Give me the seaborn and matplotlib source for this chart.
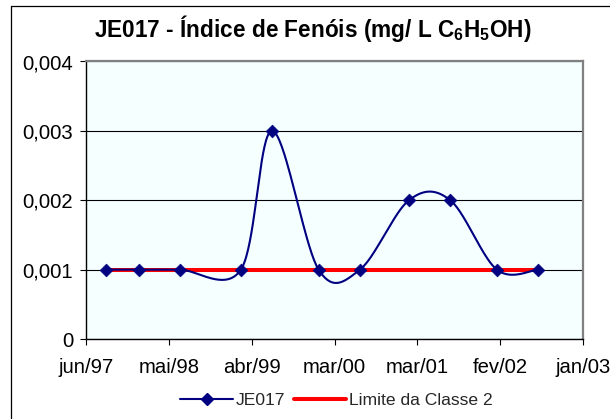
import numpy as np
import pandas as pd
import matplotlib
matplotlib.use("Agg")
import matplotlib.pyplot as plt
import matplotlib.dates as mdates
from matplotlib.lines import Line2D
import seaborn as sns

# Sampling dates and phenol index readings at station JE017
datas = ["1997-09-01", "1998-01-13", "1998-07-02", "1999-03-09", "1999-07-15",
         "2000-01-22", "2000-07-10", "2001-01-27", "2001-07-16", "2002-01-23",
         "2002-07-11"]
fenois = [0.001, 0.001, 0.001, 0.001, 0.003, 0.001, 0.001, 0.002, 0.002, 0.001, 0.001]

# Class 2 limit
limite_classe2 = 0.001

# Axis labels
rotulos_x = ["jun/97", "mai/98", "abr/99", "mar/00", "mar/01", "fev/02", "jan/03"]
inicio_eixo = "1997-06-12"
passo_dias = 340
ticks_y = [0, 0.001, 0.002, 0.003, 0.004]
rotulos_y = ["0", "0,001", "0,002", "0,003", "0,004"]

titulo = r"JE017 - Índice de Fenóis (mg/ L C$_{\mathbf{6}}$H$_{\mathbf{5}}$OH)"


def suavizar(x, y, n=40):
    """Bezier smoothing through every point (Catmull-Rom style control points)."""
    x = np.asarray(x, float)
    y = np.asarray(y, float)
    px = np.concatenate([[x[0]], x, [x[-1]]])
    py = np.concatenate([[y[0]], y, [y[-1]]])
    t = np.linspace(0, 1, n)
    xs, ys = [], []
    for i in range(1, len(px) - 2):
        p0x, p0y = px[i], py[i]
        p3x, p3y = px[i + 1], py[i + 1]
        c1x = p0x + (px[i + 1] - px[i - 1]) / 6
        c1y = p0y + (py[i + 1] - py[i - 1]) / 6
        c2x = p3x - (px[i + 2] - px[i]) / 6
        c2y = p3y - (py[i + 2] - py[i]) / 6
        b0 = (1 - t) ** 3
        b1 = 3 * (1 - t) ** 2 * t
        b2 = 3 * (1 - t) * t ** 2
        b3 = t ** 3
        xs.append(b0 * p0x + b1 * c1x + b2 * c2x + b3 * p3x)
        ys.append(b0 * p0y + b1 * c1y + b2 * c2y + b3 * p3y)
    return np.concatenate(xs), np.concatenate(ys)


sns.set_theme(style="white")
plt.rcParams["font.family"] = ["Liberation Sans", "DejaVu Sans"]
plt.rcParams["mathtext.fontset"] = "custom"
plt.rcParams["mathtext.rm"] = "Liberation Sans:bold"
plt.rcParams["mathtext.bf"] = "Liberation Sans:bold"

azul = "#000080"
vermelho = "#FF0000"

dx = mdates.date2num(pd.to_datetime(datas))
df = pd.DataFrame({"data": dx, "fenois": fenois})
sx, sy = suavizar(df["data"], df["fenois"])
curva = pd.DataFrame({"data": sx, "fenois": sy})
lim = pd.DataFrame({"data": [dx[0], dx[-1]], "valor": [limite_classe2, limite_classe2]})

fig = plt.figure(figsize=(6.10, 4.19), dpi=100)
ax = fig.add_axes([86.3 / 610, 1 - 339 / 419, (583 - 86.3) / 610, (339 - 61.5) / 419])
ax.set_facecolor("#F5FFFF")

sns.lineplot(data=lim, x="data", y="valor", ax=ax, color=vermelho, lw=2.9,
             legend=False, zorder=3)
sns.lineplot(data=curva, x="data", y="fenois", ax=ax, color=azul, lw=1.5,
             sort=False, estimator=None, legend=False, zorder=4)
sns.scatterplot(data=df, x="data", y="fenois", ax=ax, color=azul, marker="D",
                s=42, edgecolor=azul, linewidth=0.5, legend=False, zorder=5)

x0 = mdates.date2num(pd.Timestamp(inicio_eixo))
xticks = [x0 + k * passo_dias for k in range(len(rotulos_x))]
ax.set_xlim(xticks[0], xticks[-1])
ax.set_xticks(xticks)
ax.set_xticklabels(rotulos_x)
ax.set_ylim(0, 0.004)
ax.set_yticks(ticks_y)
ax.set_yticklabels(rotulos_y)
ax.set_xlabel("")
ax.set_ylabel("")

ax.grid(axis="y", color="black", lw=0.8)
ax.set_axisbelow(True)
for s in ["top", "right"]:
    ax.spines[s].set_color("#808080")
    ax.spines[s].set_linewidth(1.6)
for s in ["left", "bottom"]:
    ax.spines[s].set_color("black")
    ax.spines[s].set_linewidth(1.0)
ax.tick_params(axis="both", which="major", direction="out", length=4.5, width=0.8,
               color="black", labelsize=14.6, labelcolor="black",
               left=True, bottom=True)
ax.tick_params(axis="x", pad=9)
ax.tick_params(axis="y", pad=5)

fig.text(312.5 / 610, 1 - 28.5 / 419, titulo, ha="center", va="center",
         fontsize=16.3, fontweight="bold", color="black")

handles = [
    Line2D([], [], color=azul, lw=1.5, marker="D", markersize=6.4,
           markerfacecolor=azul, markeredgecolor=azul),
    Line2D([], [], color=vermelho, lw=2.9),
]
fig.legend(handles, ["JE017", "Limite da Classe 2"], loc="center",
           bbox_to_anchor=(336.5 / 610, 1 - 400 / 419), ncol=2, frameon=False,
           fontsize=12.6, handlelength=3.0, handletextpad=0.15, columnspacing=0.5,
           borderaxespad=0, borderpad=0)

# Outer chart frame (left and top edges)
fig.add_artist(Line2D([11 / 610, 11 / 610], [0, 1 - 6.5 / 419],
                      transform=fig.transFigure, color="black", lw=0.9))
fig.add_artist(Line2D([11 / 610, 1], [1 - 6.5 / 419, 1 - 6.5 / 419],
                      transform=fig.transFigure, color="black", lw=0.9))

fig.savefig("out.png", dpi=100)
